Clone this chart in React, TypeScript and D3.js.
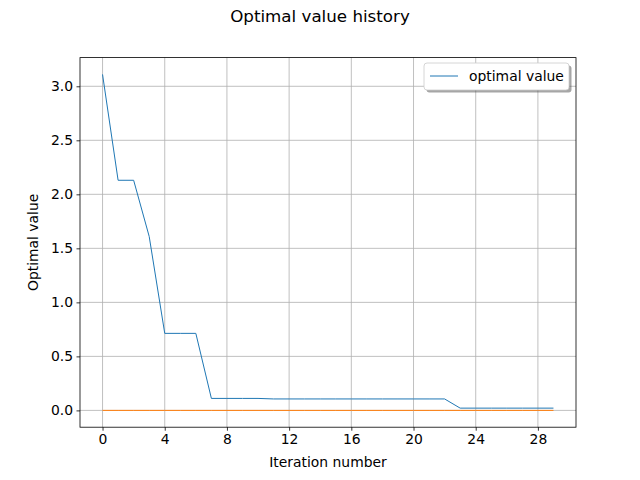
import React, { useEffect, useRef } from "react";
import * as d3 from "d3";

// optimal value per iteration
const iterations = d3.range(0, 30);
const optimalValues = [
  3.11, 2.13, 2.13, 1.61, 0.713, 0.713, 0.713, 0.111, 0.111, 0.111,
  0.111, 0.106, 0.106, 0.106, 0.106, 0.106, 0.106, 0.106, 0.106, 0.106,
  0.106, 0.106, 0.106, 0.021, 0.021, 0.021, 0.021, 0.021, 0.021, 0.021,
];
const referenceValues = iterations.map(() => 0);
const xTicks = [0, 4, 8, 12, 16, 20, 24, 28];
const yTicks = [0, 0.5, 1.0, 1.5, 2.0, 2.5, 3.0];

export default function App() {
  const ref = useRef<SVGSVGElement>(null);

  useEffect(() => {
    const W = 640;
    const H = 480;
    const left = 80;
    const right = 576;
    const top = 57.6;
    const bottom = 427.2;
    const font = "DejaVu Sans, sans-serif";

    const svg = d3.select(ref.current);
    svg.selectAll("*").remove();

    const x = d3.scaleLinear().domain([-1.45, 30.45]).range([left, right]);
    const y = d3.scaleLinear().domain([-0.1555, 3.2655]).range([bottom, top]);

    svg.append("rect").attr("width", W).attr("height", H).attr("fill", "white");

    // grid
    const grid = svg.append("g").attr("stroke", "#b0b0b0").attr("stroke-width", 0.8);
    xTicks.forEach((t) =>
      grid.append("line").attr("x1", x(t)).attr("x2", x(t)).attr("y1", top).attr("y2", bottom)
    );
    yTicks.forEach((t) =>
      grid.append("line").attr("x1", left).attr("x2", right).attr("y1", y(t)).attr("y2", y(t))
    );

    const line = d3
      .line<number>()
      .x((_, i) => x(iterations[i]))
      .y((d) => y(d));

    svg
      .append("path")
      .datum(optimalValues)
      .attr("fill", "none")
      .attr("stroke", "#1f77b4")
      .attr("stroke-width", 1)
      .attr("d", line);

    svg
      .append("path")
      .datum(referenceValues)
      .attr("fill", "none")
      .attr("stroke", "#ff7f0e")
      .attr("stroke-width", 1)
      .attr("d", line);

    const xAxis = svg
      .append("g")
      .attr("transform", `translate(0,${bottom})`)
      .call(d3.axisBottom(x).tickValues(xTicks).tickSize(3.5).tickPadding(3.5).tickFormat(d3.format("d")));
    const yAxis = svg
      .append("g")
      .attr("transform", `translate(${left},0)`)
      .call(d3.axisLeft(y).tickValues(yTicks).tickSize(3.5).tickPadding(3.5).tickFormat(d3.format(".1f")));
    [xAxis, yAxis].forEach((a) => {
      a.select(".domain").remove();
      a.selectAll("line").attr("stroke", "black").attr("stroke-width", 0.8);
      a.selectAll("text").attr("font-family", font).attr("font-size", 13.9).attr("fill", "black");
    });

    // frame
    svg
      .append("rect")
      .attr("x", left)
      .attr("y", top)
      .attr("width", right - left)
      .attr("height", bottom - top)
      .attr("fill", "none")
      .attr("stroke", "black")
      .attr("stroke-width", 0.8);

    // figure title is centred on the whole figure
    svg
      .append("text")
      .attr("x", W / 2)
      .attr("y", 22)
      .attr("text-anchor", "middle")
      .attr("font-family", font)
      .attr("font-size", 16.7)
      .text("Optimal value history");

    svg
      .append("text")
      .attr("x", (left + right) / 2)
      .attr("y", 467)
      .attr("text-anchor", "middle")
      .attr("font-family", font)
      .attr("font-size", 13.9)
      .text("Iteration number");

    svg
      .append("text")
      .attr("transform", `translate(38,${(top + bottom) / 2}) rotate(-90)`)
      .attr("text-anchor", "middle")
      .attr("font-family", font)
      .attr("font-size", 13.9)
      .text("Optimal value");

    // legend
    const lg = svg.append("g").attr("transform", "translate(424,63)");
    lg.append("rect")
      .attr("x", 2.5)
      .attr("y", 2.5)
      .attr("width", 145)
      .attr("height", 27)
      .attr("rx", 3)
      .attr("fill", "#4d4d4d")
      .attr("opacity", 0.5);
    lg.append("rect")
      .attr("width", 145)
      .attr("height", 27)
      .attr("rx", 3)
      .attr("fill", "white")
      .attr("stroke", "#cccccc")
      .attr("stroke-width", 0.8);
    lg.append("line")
      .attr("x1", 6)
      .attr("x2", 34)
      .attr("y1", 13)
      .attr("y2", 13)
      .attr("stroke", "#1f77b4")
      .attr("stroke-width", 1);
    lg.append("text")
      .attr("x", 45)
      .attr("y", 18)
      .attr("font-family", font)
      .attr("font-size", 13.9)
      .text("optimal value");
  });

  return (
    <svg
      ref={ref}
      width={640}
      height={480}
      style={{ position: "absolute", left: 0, top: 0 }}
    />
  );
}
